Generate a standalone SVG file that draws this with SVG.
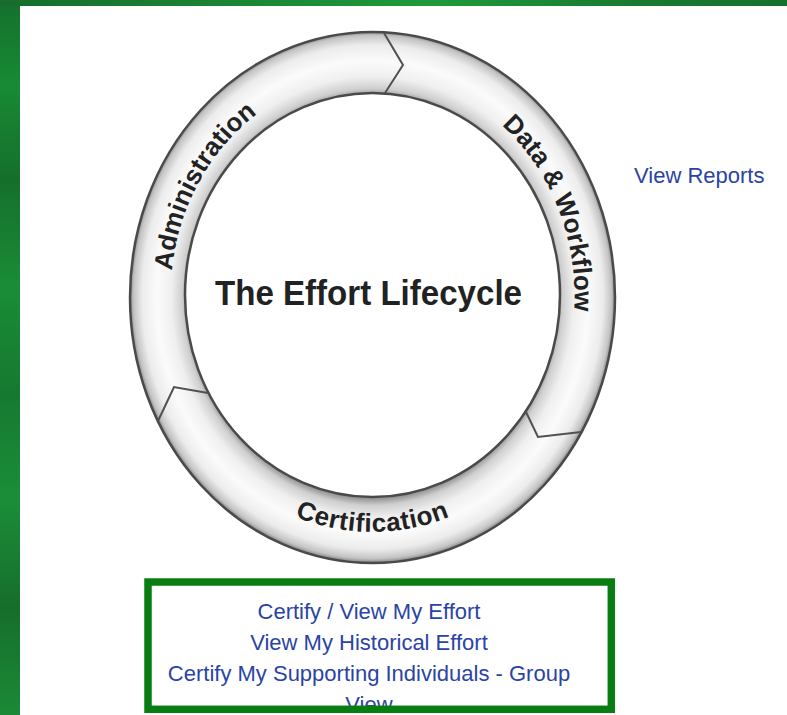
<svg xmlns="http://www.w3.org/2000/svg" width="787" height="715" viewBox="0 0 787 715">
  <defs>
    <linearGradient id="gLeft" x1="0" y1="0" x2="0" y2="1">
      <stop offset="0" stop-color="#14702c"/>
      <stop offset="0.12" stop-color="#188a34"/>
      <stop offset="0.25" stop-color="#156f2c"/>
      <stop offset="0.4" stop-color="#1a8c36"/>
      <stop offset="0.55" stop-color="#157a30"/>
      <stop offset="0.7" stop-color="#1b8d38"/>
      <stop offset="0.85" stop-color="#166e2c"/>
      <stop offset="1" stop-color="#1b8a36"/>
    </linearGradient>
    <linearGradient id="gTop" x1="0" y1="0" x2="1" y2="0">
      <stop offset="0" stop-color="#166c2c"/>
      <stop offset="0.3" stop-color="#1a8534"/>
      <stop offset="0.55" stop-color="#1f9a3a"/>
      <stop offset="0.8" stop-color="#187a30"/>
      <stop offset="1" stop-color="#16702d"/>
    </linearGradient>
    <radialGradient id="ringGrad" gradientUnits="userSpaceOnUse" cx="0" cy="0" r="1" gradientTransform="translate(372.5 297) scale(242.5 265.5)">
      <stop offset="0.755" stop-color="#8c8c8c"/>
      <stop offset="0.785" stop-color="#cfcfcf"/>
      <stop offset="0.83" stop-color="#efefef"/>
      <stop offset="0.89" stop-color="#fbfbfb"/>
      <stop offset="0.95" stop-color="#ececec"/>
      <stop offset="0.985" stop-color="#c4c4c4"/>
      <stop offset="1" stop-color="#8a8a8a"/>
    </radialGradient>
    <path id="arcTop" d="M 372.5 518 A 202 222 0 0 1 372.5 74 A 202 222 0 0 1 372.5 518"/>
    <path id="arcBottom" d="M 154.5 296 A 218 236 0 0 0 590.5 296"/>
  </defs>
  <style>
    .ringlabel { font-family: "Liberation Sans", Arial, sans-serif; font-weight: bold; font-size: 26px; fill: #222222; }
    .link { font-family: "Liberation Sans", Arial, sans-serif; font-size: 22px; fill: #2a44a6; text-anchor: middle; }
    .edge { fill: none; stroke: #4a4a4a; stroke-width: 2.5; }
    .divider { fill: none; stroke: #505050; stroke-width: 2; stroke-linejoin: miter; }
  </style>

  <!-- background -->
  <rect x="0" y="0" width="787" height="715" fill="#ffffff"/>
  <rect x="0" y="0" width="20" height="715" fill="url(#gLeft)"/>
  <rect x="0" y="0" width="787" height="6" fill="url(#gTop)"/>

  <!-- ring -->
  <g id="ring">
    <path fill="url(#ringGrad)" fill-rule="evenodd" d="M 130 297.5 A 242.5 265.5 0 1 0 615 297.5 A 242.5 265.5 0 1 0 130 297.5 Z M 185 295 A 187.5 202 0 1 0 560 295 A 187.5 202 0 1 0 185 295 Z"/>
    <ellipse class="edge" cx="372.5" cy="297.5" rx="242.5" ry="265.5"/>
    <ellipse class="edge" cx="372.5" cy="295" rx="187.5" ry="202"/>
  </g>

  <!-- segment dividers (chevrons showing flow) -->
  <g id="connectors">
    <path class="divider" d="M 384 33 L 403 65 L 385 93"/>
    <path class="divider" d="M 526 412 L 538 437 L 581 432"/>
    <path class="divider" d="M 208 393 L 174 387 L 158 421"/>
  </g>

  <g id="administration">
    <text class="ringlabel" font-size="25"><textPath href="#arcTop" startOffset="33.8%" text-anchor="middle">Administration</textPath></text>
  </g>
  <g id="data-workflow">
    <text class="ringlabel"><textPath href="#arcTop" startOffset="68.4%" text-anchor="middle">Data &amp; Workflow</textPath></text>
  </g>
  <g id="certification">
    <text class="ringlabel" letter-spacing="0.6"><textPath href="#arcBottom" startOffset="50%" text-anchor="middle">Certification</textPath></text>
  </g>

  <g id="title">
    <text x="368.5" y="305" text-anchor="middle" textLength="307" lengthAdjust="spacingAndGlyphs" font-family="Liberation Sans, Arial, sans-serif" font-weight="bold" font-size="35" fill="#222222">The Effort Lifecycle</text>
  </g>

  <g id="view-reports">
    <text x="634" y="183" font-family="Liberation Sans, Arial, sans-serif" font-size="22" fill="#2a44a6">View Reports</text>
  </g>

  <g id="certify-links">
    <text class="link" x="369" y="619">Certify / View My Effort</text>
    <text class="link" x="369" y="650">View My Historical Effort</text>
    <text class="link" x="369" y="681">Certify My Supporting Individuals - Group</text>
    <text class="link" x="369" y="712">View</text>
    <rect x="148" y="582" width="463.3" height="127.3" fill="none" stroke="#0a7d12" stroke-width="7.5"/>
  </g>
</svg>
